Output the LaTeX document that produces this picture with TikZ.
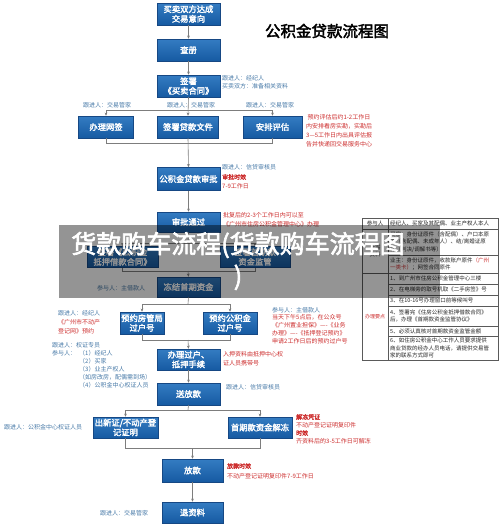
\documentclass[tikz,border=0pt]{standalone}
\usepackage{fontspec}
\setmainfont{Noto Sans CJK SC}[AutoFakeBold=2.5]
\usetikzlibrary{arrows.meta,calc}
\definecolor{boxtop}{RGB}{52,124,194}
\definecolor{boxbot}{RGB}{22,90,162}
\definecolor{boxedge}{RGB}{22,72,132}
\definecolor{annblue}{RGB}{72,122,168}
\definecolor{redtxt}{RGB}{205,45,45}
\definecolor{linegray}{RGB}{125,125,125}
\definecolor{tblline}{RGB}{90,90,90}
\begin{document}
\begin{tikzpicture}[x=1pt,y=-1pt,
  bx/.style={draw=boxedge, line width=0.5pt, top color=boxtop, bottom color=boxbot,
    text=white, font=\bfseries\fontsize{8.3}{9.6}\selectfont, align=center,
    inner sep=1pt, minimum height=22pt},
  ann/.style={font=\fontsize{6}{8}\selectfont, text=annblue, anchor=west, inner sep=0pt, align=left},
  redann/.style={font=\fontsize{6}{8}\selectfont, text=redtxt, anchor=west, inner sep=0pt, align=left},
  tcell/.style={font=\fontsize{5.5}{7.3}\selectfont, text=black!85, anchor=west, inner sep=0pt, align=left},
  conn/.style={draw=linegray, line width=0.6pt},
  arr/.style={conn, -{Stealth[length=3.2pt,width=2.8pt]}},
  tbl/.style={draw=tblline, line width=0.4pt}]
\useasboundingbox (0,0) rectangle (500,525);
\fill[white] (0,0) rectangle (500,525);

% title
\node[font=\bfseries\fontsize{15.5}{17}\selectfont, inner sep=0pt] (title) at (327,31) {公积金贷款流程图};

% boxes
\node[bx, minimum width=63pt] (n1) at (188.5,14) {买卖双方达成\\交易意向};
\node[bx, minimum width=63pt] (n2) at (188.5,50) {查册};
\node[bx, minimum width=63pt] (n3) at (188.5,86) {签署\\《买卖合同》};
\node[bx, minimum width=55pt] (n4a) at (106,127) {办理网签};
\node[bx, minimum width=61pt] (n4b) at (188,127) {签署贷款文件};
\node[bx, minimum width=59pt] (n4c) at (272.5,127) {安排评估};
\node[bx, minimum width=63pt, minimum height=23pt] (n5) at (188.5,179) {公积金贷款审批};
\node[bx, minimum width=63pt, minimum height=20pt] (n6) at (188.5,222) {审批通过};
\node[bx, minimum width=71pt, minimum height=21pt] (n7a) at (122.5,257) {签署《公积金\\抵押借款合同》};
\node[bx, minimum width=70pt, minimum height=21pt] (n7b) at (255,257) {签署首期款\\资金监管};
\node[bx, minimum width=63pt, minimum height=20pt] (n8) at (188.5,287) {冻结首期资金};
\node[bx, minimum width=44pt] (n9a) at (142,323) {预约房管局\\过户号};
\node[bx, minimum width=54pt] (n9b) at (230,323) {预约公积金\\过户号};
\node[bx, minimum width=63pt, minimum height=21pt] (n10) at (188.5,359.5) {办理过户、\\抵押手续};
\node[bx, minimum width=63pt] (n11) at (188.5,394) {送放款};
\node[bx, minimum width=65pt, minimum height=21pt] (n12a) at (125.5,427.5) {出新证/不动产登\\记证明};
\node[bx, minimum width=64pt, minimum height=21pt] (n12b) at (260,427.5) {首期款资金解冻};
\node[bx, minimum width=61pt, minimum height=23pt] (n13) at (192.5,470.5) {放款};
\node[bx, minimum width=61pt, minimum height=21pt] (n14) at (192.5,512.5) {退资料};

% junction coordinates
\coordinate (j1) at (188,110);
\coordinate (j2) at (188,143);
\coordinate (j3) at (188,243);
\coordinate (j4) at (188,271);
\coordinate (j5) at (188,304);
\coordinate (j6) at (188,340);
\coordinate (j7) at (188,410);
\coordinate (j8) at (192.5,448);

% connectors
\draw[arr] (n1) -- (n2);
\draw[arr] (n2) -- (n3);
\draw[arr] (n3.south) -- (n4b.north);
\draw[conn] (j1 -| n4a) -- (j1 -| n4c);
\draw[arr] (j1 -| n4a) -- (n4a.north);
\draw[arr] (j1 -| n4c) -- (n4c.north);
\draw[conn] (n4a.south) -- (j2 -| n4a) -- (j2 -| n4c) -- (n4c.south);
\draw[arr] (n4b.south) -- (n5.north);
\draw[arr] (n5) -- (n6);
\draw[conn] (n6.south) -- (j3);
\draw[conn] (j3 -| n7a) -- (j3 -| n7b);
\draw[arr] (j3 -| n7a) -- (n7a.north);
\draw[arr] (j3 -| n7b) -- (n7b.north);
\draw[conn] (n7a.south) -- (j4 -| n7a) -- (j4 -| n7b) -- (n7b.south);
\draw[arr] (j4) -- (n8.north);
\draw[conn] (n8.south) -- (j5);
\draw[conn] (j5 -| n9a) -- (j5 -| n9b);
\draw[arr] (j5 -| n9a) -- (n9a.north);
\draw[arr] (j5 -| n9b) -- (n9b.north);
\draw[conn] (n9a.south) -- (j6 -| n9a) -- (j6 -| n9b) -- (n9b.south);
\draw[arr] (j6) -- (n10.north);
\draw[arr] (n10) -- (n11);
\draw[conn] (n11.south) -- (j7);
\draw[conn] (j7 -| n12a) -- (j7 -| n12b);
\draw[arr] (j7 -| n12a) -- (n12a.north);
\draw[arr] (j7 -| n12b) -- (n12b.north);
\draw[conn] (n12a.south) -- (j8 -| n12a) -- (j8 -| n12b) -- (n12b.south);
\draw[arr] (j8) -- (n13.north);
\draw[arr] (n13) -- (n14);

% annotations
\node[ann] (a1) at (222,82) {跟进人：经纪人\\买卖双方：准备相关资料};
\node[ann] (a2) at (83,105) {跟进人：交易管家};
\node[ann] (a3) at (167,105) {跟进人：交易管家};
\node[ann] (a4) at (246,105) {跟进人：交易管家};
\node[redann, font=\fontsize{6}{9}\selectfont] (a5) at (306,130.5) {\ 预约评估后约1-2工作日\\内安排看房实勘，实勘后\\3—5工作日内出具评估报\\告并快递回交易服务中心};
\node[ann] (a6) at (222,167) {跟进人：信贷审核员};
\node[redann, font=\bfseries\fontsize{6}{8}\selectfont] (a7) at (222,177) {审批时效};
\node[redann] (a8) at (222,186) {7-9工作日};
\node[redann, font=\fontsize{6}{9}\selectfont] (a9) at (223,219.5) {批复后的2-3个工作日内可以至\\《广州市住房公积金管理中心》办理};
\node[ann] (a10) at (97,288) {参与人：主借款人};
\node[ann] (a11) at (58,313) {跟进人：经纪人};
\node[redann, font=\fontsize{6}{9}\selectfont] (a12) at (58,326.5) {《广州市不动产\\登记网》预约};
\node[ann] (a13) at (272,310) {参与人：主借款人};
\node[redann] (a14) at (272,329) {当天下午5点后，在公众号\\《广州置业担保》----《业务\\办理》----《抵押登记预约》\\申请2工作日后的预约过户号};
\node[redann, font=\fontsize{6}{9}\selectfont] (a15) at (223,358.5) {入押资料由抵押中心权\\证人员携带号};
\node[ann] (a16) at (52,349) {跟进人：权证专员\\参与人：};
\node[ann] (a17) at (79,369.5) {（1）经纪人\\（2）买家\\（3）业主产权人\\（如房改房，配偶需到场）\\（4）公积金中心权证人员};
\node[ann] (a18) at (226,387) {跟进人：信贷审核员};
\node[ann] (a19) at (4,427) {跟进人：公积金中心权证人员};
\node[redann, font=\bfseries\fontsize{6}{8}\selectfont] (a20) at (296,417) {解冻凭证};
\node[redann] (a21) at (296,425) {不动产登记证明复印件};
\node[redann, font=\bfseries\fontsize{6}{8}\selectfont] (a22) at (296,433) {时效};
\node[redann] (a23) at (296,441) {齐资料后的3-5工作日可解冻};
\node[redann, font=\bfseries\fontsize{6}{8}\selectfont] (a24) at (227,466) {放款时效};
\node[redann] (a25) at (227,476) {不动产登记证明复印件7-9工作日};
\node[ann] (a26) at (100,513) {跟进人：交易管家};

% table
\draw[tbl] (362,218) rectangle (498,360);
\draw[tbl] (388,218) -- (388,360);
\foreach \y in {229,273} \draw[tbl] (362,\y) -- (498,\y);
\foreach \y in {255,284,295,306,326,336} \draw[tbl] (388,\y) -- (498,\y);
\node[tcell, anchor=center] (t0) at (375,223.5) {参与人};
\node[tcell, anchor=center] (t1) at (375,251) {所需\\资料};
\node[tcell, anchor=center, text=redtxt, font=\fontsize{5}{6}\selectfont] (t2) at (375,317) {办理要点};
\node[tcell] (c1) at (390,223.5) {经纪人、买家及其配偶、业主产权人本人};
\node[tcell] (c2) at (390,242) {买家：身份证原件（含配偶）、户口本原\\件（含配偶、未成年人）、结/离婚证原\\件（判决/调解书等）};
\node[tcell] (c3) at (390,264) {业主：身份证原件，收款账户原件{\color{redtxt}（广州}\\{\color{redtxt}一类卡）}；网签合同原件};
\node[tcell] (c4) at (390,278.5) {1、到广州市住房公积金管理中心三楼};
\node[tcell] (c5) at (390,289.5) {2、在电梯旁的取号机取《二手房签》号};
\node[tcell] (c6) at (390,300.5) {3、在10-16号办理窗口前等候叫号};
\node[tcell] (c7) at (390,316) {4、签署完《住房公积金抵押借款合同》\\后，办理《首期款资金监管协议》};
\node[tcell] (c8) at (390,331) {5、必须认真核对首期款资金监管金额};
\node[tcell] (c9) at (390,348) {6、如住房公积金中心工作人员要求提供\\商业贷款的经办人员电话，请提供交易管\\家的联系方式即可};

% overlay banner
\fill[black, opacity=0.42] (59,225) rectangle (440,298);
\node[text=white, font=\bfseries\fontsize{25}{32}\selectfont, align=center, inner sep=0pt] (ov) at (238,261) {货款购车流程(货款购车流程图\\)};
\end{tikzpicture}
\end{document}
